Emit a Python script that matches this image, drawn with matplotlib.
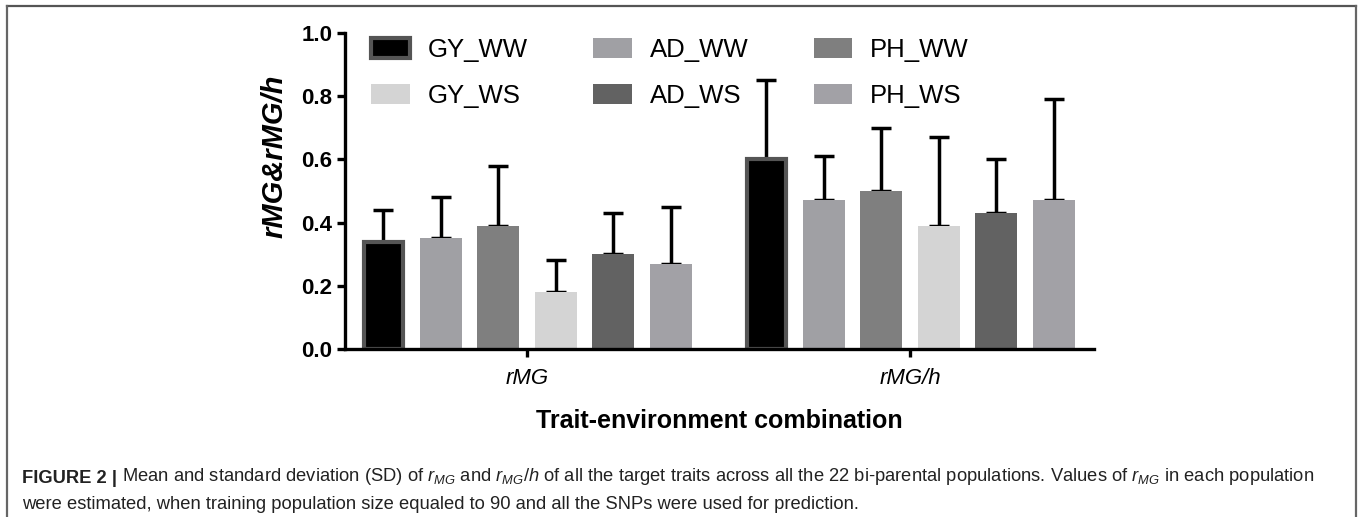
import numpy as np
import matplotlib
matplotlib.use("Agg")
import matplotlib.pyplot as plt
from matplotlib.lines import Line2D

plt.rcParams['font.family'] = ['Liberation Sans', 'DejaVu Sans']
plt.rcParams['mathtext.fontset'] = 'custom'
plt.rcParams['mathtext.rm'] = 'Liberation Sans'
plt.rcParams['mathtext.it'] = 'Liberation Sans:italic'

groups = ['rMG', 'rMG/h']
series = ['GY_WW', 'AD_WW', 'PH_WW', 'GY_WS', 'AD_WS', 'PH_WS']
means = {
    'GY_WW': [0.34, 0.60],
    'AD_WW': [0.35, 0.47],
    'PH_WW': [0.39, 0.50],
    'GY_WS': [0.18, 0.39],
    'AD_WS': [0.30, 0.43],
    'PH_WS': [0.27, 0.47],
}
sds = {
    'GY_WW': [0.10, 0.25],
    'AD_WW': [0.13, 0.14],
    'PH_WW': [0.19, 0.20],
    'GY_WS': [0.10, 0.28],
    'AD_WS': [0.13, 0.17],
    'PH_WS': [0.18, 0.32],
}
colors = {
    'GY_WW': '#000000',
    'AD_WW': '#a0a0a4',
    'PH_WW': '#7f7f7f',
    'GY_WS': '#d4d4d4',
    'AD_WS': '#626262',
    'PH_WS': '#a2a1a6',
}

fig = plt.figure(figsize=(13.63, 5.17), dpi=100)
ax = fig.add_axes([0.2531, 0.3250, 0.5495, 0.6112])

x = np.arange(len(groups))
step = 0.15
width = 0.11
handles = {}
for i, s in enumerate(series):
    pos = x + (i - 2.5) * step
    if s == 'GY_WW':
        b = ax.bar(pos, means[s], width * 0.93, color=colors[s], edgecolor='#555555',
                   linewidth=3, zorder=2)
    else:
        b = ax.bar(pos, means[s], width, color=colors[s], edgecolor='none', zorder=2)
    handles[s] = b
    ax.errorbar(pos, means[s], yerr=[np.zeros(len(groups)), sds[s]], fmt='none',
                ecolor='black', elinewidth=2.5, capsize=7, capthick=2.5, zorder=1)

ax.set_xlim(-0.475, 1.48)
ax.set_ylim(0, 1.0)
ax.set_yticks(np.arange(0, 1.01, 0.2))
ax.set_yticklabels(['%.1f' % v for v in np.arange(0, 1.01, 0.2)], fontweight='bold', fontsize=16)
ax.set_xticks(x)
ax.set_xticklabels(groups, fontstyle='italic', fontsize=16)
for sp in ['top', 'right']:
    ax.spines[sp].set_visible(False)
for sp in ['left', 'bottom']:
    ax.spines[sp].set_linewidth(2.4)
ax.tick_params(axis='both', width=2.4, length=6, direction='out')
ax.tick_params(axis='y', pad=3)
ax.tick_params(axis='x', pad=8)
ax.set_ylabel('rMG&rMG/h', fontweight='bold', fontstyle='italic', fontsize=21)
ax.yaxis.set_label_coords(-0.076, 0.61)
ax.set_xlabel('Trait-environment combination', fontweight='bold', fontsize=18, labelpad=14)

order = ['GY_WW', 'GY_WS', 'AD_WW', 'AD_WS', 'PH_WW', 'PH_WS']
ax.legend([handles[s] for s in order], order, ncol=3, frameon=False, fontsize=18.5,
          loc='upper left', bbox_to_anchor=(0.004, 1.058), handlelength=1.5, handleheight=0.8,
          columnspacing=2.55, labelspacing=0.85, handletextpad=0.7)

# outer frame
fig.add_artist(Line2D([7 / 1363, 1356 / 1363], [1 - 6 / 517, 1 - 6 / 517], color='#555555', lw=1.6))
fig.add_artist(Line2D([7 / 1363, 7 / 1363], [0, 1 - 6 / 517], color='#666666', lw=1.6))
fig.add_artist(Line2D([1356 / 1363, 1356 / 1363], [0, 1 - 6 / 517], color='#666666', lw=1.6))

# caption
cap_c = '#222222'
t1 = fig.text(22 / 1363, 1 - 483 / 517, 'FIGURE 2 |', fontweight='bold', fontsize=13.2, color=cap_c)
fig.canvas.draw()
ax.annotate(' Mean and standard deviation (SD) of $r_{MG}$ and $r_{MG}$/$h$ of all the target traits '
            'across all the 22 bi-parental populations. Values of $r_{MG}$ in each population',
            xy=(1, 0), xycoords=t1, va='bottom', ha='left', fontsize=13.2, color=cap_c,
            annotation_clip=False)
fig.text(22 / 1363, 1 - 509 / 517,
         'were estimated, when training population size equaled to 90 and all the SNPs were used for prediction.',
         fontsize=13.2, color=cap_c)

fig.savefig('out.png', dpi=100)
